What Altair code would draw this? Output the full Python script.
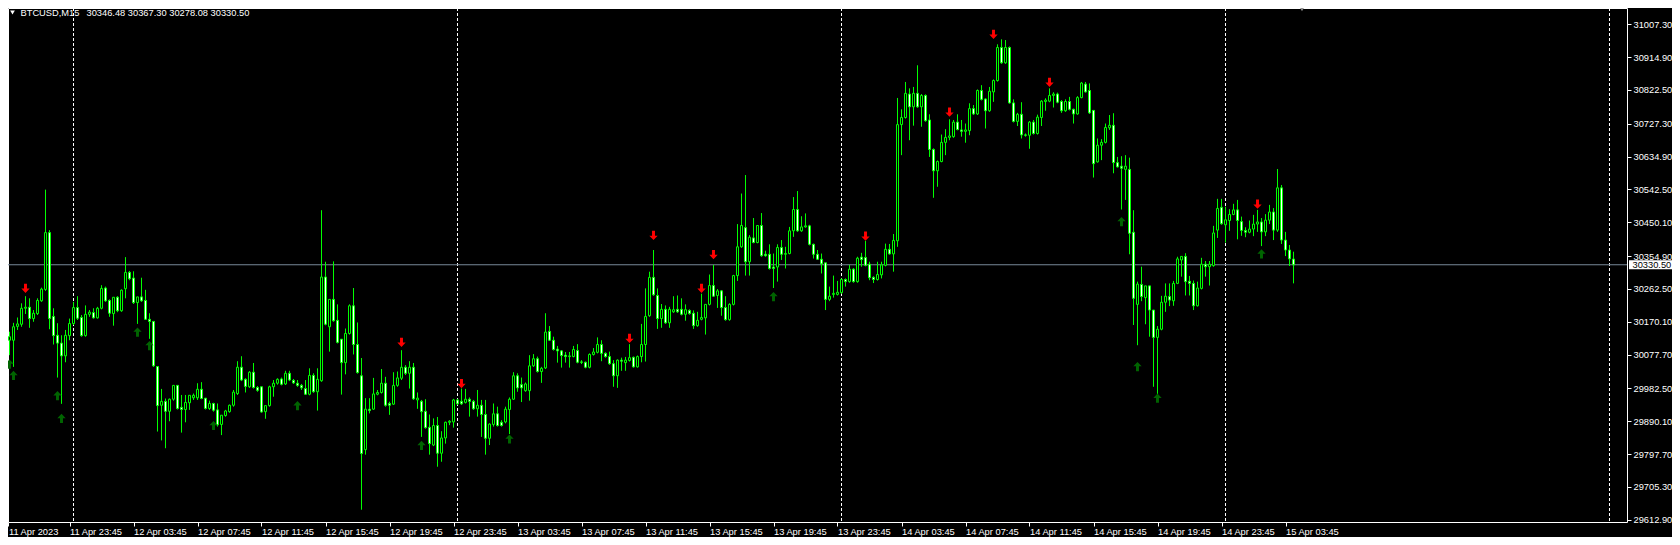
import altair as alt
import pandas as pd

symbol_text = "BTCUSD,M15"
ohlc_text = "30346.48 30367.30 30278.08 30330.50"
last_price = 30330.50

opens = [
    30188, 30118, 30118, 30157, 30163, 30208, 30211, 30179, 30193, 30229,
    30261, 30421, 30185, 30132, 30110, 30074, 30131, 30165, 30210, 30182,
    30131, 30191, 30196, 30181, 30208, 30265, 30230, 30193, 30239, 30201,
    30263, 30309, 30293, 30224, 30240, 30230, 30177, 30171, 30044, 29935,
    29946, 29918, 29952, 29991, 29929, 29923, 29942, 29956, 29956, 29980,
    29955, 29926, 29940, 29922, 29881, 29906, 29917, 29935, 29968, 30042,
    30008, 29987, 30028, 29985, 29987, 29917, 29934, 29987, 29997, 30009,
    29995, 30025, 30005, 29997, 29991, 29982, 29966, 30019, 29973, 30004,
    30296, 30156, 30233, 30174, 30121, 30055, 30137, 30215, 30106, 30018,
    29810, 29924, 29924, 29966, 29971, 29997, 29940, 29938, 29991, 30011,
    30042, 30025, 30042, 29950, 29946, 29918, 29873, 29823, 29878, 29800,
    29843, 29887, 29888, 29950, 29946, 29943, 29952, 29946, 29925, 29935,
    29909, 29842, 29881, 29911, 29887, 29888, 29923, 29952, 30018, 29993,
    29976, 29976, 30046, 30066, 30030, 30040, 30143, 30118, 30093, 30088,
    30076, 30072, 30072, 30089, 30057, 30056, 30042, 30078, 30084, 30106,
    30081, 30072, 30052, 30018, 30062, 30055, 30061, 30070, 30043, 30072,
    30106, 30187, 30295, 30244, 30179, 30205, 30167, 30198, 30205, 30205,
    30191, 30202, 30194, 30159, 30177, 30181, 30219, 30272, 30244, 30257,
    30210, 30176, 30219, 30300, 30381, 30435, 30339, 30406, 30393, 30441,
    30360, 30360, 30324, 30324, 30379, 30360, 30362, 30426, 30486, 30426,
    30437, 30440, 30388, 30360, 30346, 30336, 30233, 30247, 30247, 30252,
    30289, 30283, 30318, 30283, 30352, 30351, 30332, 30295, 30289, 30302,
    30329, 30374, 30361, 30398, 30725, 30745, 30811, 30775, 30813, 30775,
    30807, 30738, 30655, 30595, 30621, 30675, 30689, 30691, 30732, 30710,
    30706, 30708, 30770, 30755, 30821, 30797, 30764, 30817, 30849, 30942,
    30899, 30942, 30786, 30734, 30754, 30696, 30695, 30732, 30700, 30745,
    30790, 30791, 30807, 30811, 30790, 30764, 30790, 30768, 30755, 30801,
    30839, 30821, 30765, 30620, 30667, 30675, 30716, 30723, 30618, 30608,
    30599, 30599, 30422, 30219, 30275, 30238, 30271, 30203, 30126, 30149,
    30225, 30241, 30229, 30278, 30344, 30354, 30284, 30278, 30215, 30264,
    30332, 30325, 30328, 30428, 30492, 30443, 30455, 30472, 30485, 30452,
    30427, 30422, 30431, 30445, 30451, 30423, 30456, 30479, 30428, 30547,
    30400, 30372, 30346.48,
]

highs = [
    30188, 30142, 30167, 30182, 30222, 30242, 30236, 30203, 30236, 30266,
    30542, 30428, 30208, 30166, 30132, 30147, 30179, 30226, 30242, 30189,
    30216, 30203, 30208, 30212, 30273, 30269, 30233, 30239, 30242, 30261,
    30352, 30313, 30312, 30240, 30294, 30260, 30194, 30171, 30044, 29981,
    29954, 29954, 29991, 29991, 29964, 29964, 29963, 29968, 29997, 30000,
    29955, 29948, 29942, 29940, 29907, 29922, 29937, 29978, 30059, 30073,
    30011, 30031, 30054, 29989, 29987, 29934, 29990, 30006, 30011, 30013,
    30032, 30032, 30009, 30006, 29995, 30006, 30039, 30025, 30039, 30484,
    30339, 30233, 30340, 30219, 30121, 30151, 30219, 30265, 30168, 30068,
    29955, 29955, 30012, 29978, 30037, 30015, 29945, 30028, 30030, 30090,
    30048, 30059, 30054, 29971, 29950, 29952, 29909, 29898, 29902, 29862,
    29889, 29893, 29953, 29953, 29982, 29981, 29957, 29950, 29978, 29950,
    29950, 29884, 29940, 29931, 29893, 29931, 29957, 30028, 30025, 30013,
    29999, 30076, 30079, 30072, 30043, 30194, 30158, 30128, 30102, 30090,
    30085, 30085, 30102, 30107, 30062, 30058, 30081, 30096, 30126, 30118,
    30084, 30086, 30062, 30064, 30069, 30071, 30107, 30072, 30075, 30164,
    30264, 30311, 30372, 30264, 30220, 30216, 30212, 30242, 30244, 30236,
    30219, 30205, 30202, 30198, 30249, 30219, 30303, 30330, 30262, 30259,
    30242, 30222, 30302, 30445, 30531, 30583, 30414, 30462, 30441, 30476,
    30370, 30388, 30362, 30388, 30400, 30381, 30437, 30521, 30538, 30467,
    30475, 30443, 30390, 30372, 30362, 30336, 30269, 30300, 30285, 30292,
    30292, 30330, 30321, 30353, 30364, 30398, 30339, 30298, 30339, 30339,
    30390, 30389, 30417, 30800, 30768, 30845, 30827, 30831, 30892, 30811,
    30810, 30754, 30658, 30624, 30697, 30712, 30740, 30738, 30754, 30738,
    30728, 30785, 30780, 30824, 30836, 30799, 30831, 30852, 30951, 30965,
    30963, 30945, 30796, 30758, 30788, 30700, 30735, 30738, 30753, 30794,
    30799, 30827, 30816, 30815, 30794, 30796, 30803, 30770, 30805, 30845,
    30845, 30841, 30766, 30686, 30684, 30728, 30752, 30757, 30634, 30636,
    30639, 30632, 30484, 30283, 30325, 30271, 30271, 30203, 30158, 30243,
    30278, 30278, 30285, 30353, 30354, 30363, 30299, 30286, 30283, 30350,
    30341, 30341, 30440, 30516, 30516, 30494, 30487, 30502, 30513, 30466,
    30436, 30455, 30471, 30485, 30462, 30473, 30499, 30490, 30600, 30555,
    30423, 30386, 30367.30,
]

lows = [
    30111, 30076, 30043, 30147, 30156, 30192, 30153, 30170, 30189, 30226,
    30257, 30149, 30106, 30013, 29939, 30056, 30118, 30161, 30175, 30128,
    30128, 30184, 30179, 30179, 30205, 30226, 30184, 30159, 30197, 30198,
    30236, 30287, 30220, 30164, 30226, 30175, 30122, 30043, 29861, 29836,
    29814, 29890, 29948, 29923, 29858, 29887, 29922, 29950, 29950, 29952,
    29923, 29922, 29917, 29875, 29851, 29903, 29914, 29931, 29964, 30003,
    29971, 29984, 29982, 29973, 29914, 29897, 29931, 29959, 29993, 29991,
    29992, 30003, 29995, 29987, 29978, 29964, 29963, 29970, 29920, 30001,
    30160, 30086, 30170, 30109, 29965, 30022, 30134, 30078, 30024, 29641,
    29796, 29912, 29922, 29963, 29968, 29931, 29908, 29936, 29987, 30006,
    30020, 29982, 29950, 29925, 29846, 29869, 29796, 29820, 29762, 29776,
    29827, 29879, 29872, 29936, 29936, 29940, 29903, 29922, 29903, 29846,
    29796, 29823, 29875, 29875, 29875, 29884, 29854, 29950, 29973, 29944,
    29973, 29948, 30043, 30027, 29998, 30037, 30116, 30089, 30055, 30041,
    30055, 30041, 30070, 30053, 30051, 30039, 30039, 30075, 30081, 30059,
    30069, 30049, 29987, 29984, 30032, 30032, 30058, 30041, 30041, 30056,
    30058, 30184, 30243, 30150, 30153, 30164, 30153, 30195, 30195, 30188,
    30173, 30190, 30150, 30156, 30174, 30134, 30216, 30240, 30209, 30187,
    30173, 30173, 30216, 30285, 30378, 30300, 30300, 30391, 30391, 30353,
    30353, 30317, 30265, 30283, 30344, 30320, 30360, 30409, 30423, 30423,
    30435, 30385, 30348, 30344, 30306, 30203, 30228, 30238, 30244, 30249,
    30269, 30280, 30280, 30280, 30325, 30326, 30287, 30279, 30286, 30292,
    30326, 30359, 30311, 30381, 30639, 30742, 30681, 30722, 30772, 30719,
    30733, 30634, 30519, 30550, 30619, 30639, 30681, 30688, 30709, 30691,
    30674, 30695, 30752, 30752, 30793, 30714, 30761, 30789, 30846, 30896,
    30896, 30784, 30731, 30721, 30686, 30691, 30657, 30697, 30697, 30721,
    30764, 30788, 30773, 30785, 30758, 30761, 30765, 30728, 30753, 30799,
    30815, 30755, 30576, 30618, 30625, 30672, 30710, 30588, 30604, 30486,
    30513, 30360, 30161, 30104, 30228, 30163, 30128, 29987, 29967, 30146,
    30198, 30214, 30215, 30276, 30297, 30244, 30244, 30203, 30213, 30261,
    30297, 30272, 30325, 30406, 30443, 30393, 30426, 30470, 30402, 30412,
    30408, 30419, 30411, 30423, 30383, 30411, 30445, 30400, 30423, 30389,
    30355, 30327, 30278.08,
]

closes = [
    30130, 30128, 30156, 30164, 30208, 30211, 30179, 30194, 30230, 30262,
    30421, 30179, 30131, 30110, 30074, 30132, 30165, 30210, 30180, 30131,
    30191, 30197, 30181, 30208, 30264, 30229, 30194, 30239, 30201, 30259,
    30309, 30291, 30224, 30240, 30229, 30177, 30171, 30046, 29934, 29946,
    29918, 29952, 29991, 29926, 29923, 29943, 29963, 29963, 29980, 29954,
    29926, 29940, 29921, 29880, 29907, 29919, 29935, 29972, 30042, 30006,
    29988, 30028, 29985, 29977, 29916, 29934, 29987, 29997, 30008, 29994,
    30025, 30006, 29998, 29991, 29984, 29966, 30019, 29973, 30008, 30296,
    30163, 30233, 30173, 30112, 30055, 30137, 30215, 30106, 30027, 29799,
    29924, 29920, 29967, 29971, 29997, 29935, 29935, 29991, 30012, 30042,
    30025, 30042, 29953, 29955, 29917, 29872, 29827, 29878, 29800, 29843,
    29887, 29890, 29950, 29939, 29939, 29952, 29946, 29925, 29935, 29909,
    29842, 29882, 29911, 29878, 29878, 29924, 29952, 30018, 29984, 29984,
    29995, 30046, 30066, 30030, 30039, 30141, 30118, 30092, 30088, 30075,
    30072, 30074, 30092, 30056, 30056, 30042, 30078, 30085, 30106, 30081,
    30072, 30052, 30018, 30062, 30059, 30062, 30069, 30043, 30072, 30106,
    30185, 30295, 30246, 30179, 30205, 30167, 30205, 30204, 30198, 30191,
    30204, 30193, 30159, 30174, 30182, 30219, 30272, 30242, 30257, 30210,
    30176, 30219, 30300, 30381, 30441, 30339, 30408, 30393, 30441, 30356,
    30356, 30320, 30320, 30379, 30360, 30362, 30426, 30486, 30426, 30437,
    30440, 30388, 30360, 30346, 30333, 30233, 30242, 30250, 30253, 30289,
    30283, 30318, 30283, 30349, 30345, 30329, 30294, 30289, 30303, 30330,
    30374, 30361, 30399, 30725, 30745, 30813, 30775, 30813, 30775, 30807,
    30736, 30655, 30595, 30621, 30675, 30689, 30693, 30732, 30711, 30706,
    30710, 30770, 30755, 30821, 30796, 30764, 30819, 30849, 30942, 30899,
    30942, 30786, 30734, 30754, 30696, 30695, 30732, 30700, 30746, 30791,
    30794, 30807, 30811, 30788, 30764, 30790, 30768, 30755, 30801, 30842,
    30817, 30758, 30615, 30667, 30675, 30717, 30723, 30618, 30606, 30602,
    30608, 30419, 30236, 30276, 30241, 30271, 30203, 30126, 30149, 30225,
    30242, 30231, 30278, 30347, 30354, 30283, 30278, 30215, 30265, 30332,
    30325, 30332, 30420, 30489, 30446, 30457, 30472, 30485, 30455, 30427,
    30422, 30431, 30445, 30451, 30423, 30456, 30479, 30428, 30547, 30400,
    30372, 30347, 30330.50,
]

# fractal arrows: candle index and price where the arrow sits
down_idx = [5, 99, 114, 156, 162, 174, 177, 215, 236, 247, 261, 313]
down_price = [30264, 30112, 29996, 30123, 30413, 30264, 30359, 30411, 30760, 30979, 30844, 30501]
up_idx = [1, 2, 13, 14, 33, 36, 52, 73, 104, 126, 192, 279, 283, 288, 314]
up_price = [30051, 30019, 29962, 29898, 30141, 30103, 29878, 29934, 29822, 29840, 30241, 30452, 30044, 29955, 30361]

time_ticks = list(range(0, 321, 16))
time_labels = [
    "11 Apr 2023", "11 Apr 23:45", "12 Apr 03:45", "12 Apr 07:45", "12 Apr 11:45",
    "12 Apr 15:45", "12 Apr 19:45", "12 Apr 23:45", "13 Apr 03:45", "13 Apr 07:45",
    "13 Apr 11:45", "13 Apr 15:45", "13 Apr 19:45", "13 Apr 23:45", "14 Apr 03:45",
    "14 Apr 07:45", "14 Apr 11:45", "14 Apr 15:45", "14 Apr 19:45", "14 Apr 23:45",
    "15 Apr 03:45",
]
price_ticks = [31007.30, 30914.90, 30822.50, 30727.30, 30634.90, 30542.50, 30450.10,
               30354.90, 30262.50, 30170.10, 30077.70, 29982.50, 29890.10, 29797.70,
               29705.30, 29612.90]
day_separators = [17, 113, 209, 305, 401]

FONT = "Liberation Sans"
FS = 9.3
W, H = 1619, 514
LIME = "#00ff00"

candles = pd.DataFrame({
    "i": list(range(len(opens))),
    "open": opens, "high": highs, "low": lows, "close": closes,
})
downs = pd.DataFrame({"i": down_idx, "p": down_price})
ups = pd.DataFrame({"i": up_idx, "p": up_price})
seps = pd.DataFrame({"i": day_separators})
lastdf = pd.DataFrame({"p": [last_price], "label": [f"{last_price:.2f}"]})
titledf = pd.DataFrame({"sym": [symbol_text], "ohlc": [ohlc_text]})

x_domain = [0.625, 405.375]
xs = alt.Scale(domain=x_domain, nice=False, zero=False, padding=0)
ys = alt.Scale(domain=[29606.4, 31053.2], nice=False, zero=False, padding=0)

# the first time label sits on the left edge of the plot
axis_ticks = [max(t, x_domain[0] + 0.1) for t in time_ticks]
label_arr = "[" + ",".join("'" + s + "'" for s in time_labels) + "]"

x_axis = alt.Axis(
    values=axis_ticks, labelExpr=label_arr + "[round(datum.value/16)]",
    orient="bottom", labelAlign="left", labelBaseline="top", labelPadding=1,
    labelColor="white", labelFont=FONT, labelFontSize=FS, tickColor="white",
    tickSize=4, domain=False, grid=False, title=None, labelOverlap=False,
    labelFlush=False, labelBound=False,
)
y_axis = alt.Axis(
    values=price_ticks, format=".2f", orient="right", labelColor="white",
    labelFont=FONT, labelFontSize=FS, tickColor="white", tickSize=4,
    labelPadding=2, domain=False, grid=False, title=None, labelOverlap=False,
    labelFlush=False, labelBound=False,
)


def X(field):
    return alt.X(field, scale=xs, axis=x_axis, title=None)


def Y(field):
    return alt.Y(field, scale=ys, axis=y_axis, title=None)


sep_layer = alt.Chart(seps).mark_rule(color="white", strokeDash=[3, 2], strokeWidth=1).encode(
    x=X("i:Q")
)
price_line = alt.Chart(lastdf).mark_rule(color="#778899", strokeWidth=1).encode(
    y=Y("p:Q")
)
wicks = alt.Chart(candles).mark_rule(color=LIME, strokeWidth=1).encode(
    x=X("i:Q"), y=Y("low:Q"), y2="high:Q",
)
bodies = alt.Chart(candles).mark_bar(width=2, stroke=LIME, strokeWidth=1).encode(
    x=X("i:Q"), y=Y("open:Q"), y2="close:Q",
    fill=alt.condition("datum.close < datum.open", alt.value("white"), alt.value("black")),
)
down_shape = "M-0.32,-1L0.32,-1L0.32,0.05L0.9,0.05L0,1L-0.9,0.05L-0.32,0.05Z"
up_shape = "M-0.32,1L0.32,1L0.32,-0.05L0.9,-0.05L0,-1L-0.9,-0.05L-0.32,-0.05Z"
down_arrows = alt.Chart(downs).mark_point(shape=down_shape, filled=True, color="#ff0000",
                                          size=85, opacity=1).encode(
    x=X("i:Q"), y=Y("p:Q")
)
up_arrows = alt.Chart(ups).mark_point(shape=up_shape, filled=True, color="#006400",
                                      size=85, opacity=1).encode(
    x=X("i:Q"), y=Y("p:Q")
)
price_box = alt.Chart(lastdf).transform_calculate(
    top="datum.p + 13", bot="datum.p - 13"
).mark_rect(color="white").encode(
    x=alt.value(W + 2), x2=alt.value(W + 48),
    y=Y("top:Q"), y2="bot:Q",
)
price_text = alt.Chart(lastdf).mark_text(
    color="black", font=FONT, fontSize=FS, align="left", baseline="middle"
).encode(
    x=alt.value(W + 5.5), y=Y("p:Q"), text="label:N"
)
title_sym = alt.Chart(titledf).mark_text(
    color="white", font=FONT, fontSize=FS, align="left", baseline="alphabetic"
).encode(x=alt.value(12.5), y=alt.value(8), text="sym:N")
title_ohlc = alt.Chart(titledf).mark_text(
    color="white", font=FONT, fontSize=FS, align="left", baseline="alphabetic"
).encode(x=alt.value(78.5), y=alt.value(8), text="ohlc:N")
title_tri = alt.Chart(titledf).mark_point(
    shape="triangle-down", filled=True, color="white", size=22, opacity=1
).encode(x=alt.value(4.5), y=alt.value(4.5))
shift_tri = alt.Chart(titledf).mark_point(
    shape="triangle-down", filled=True, color="#909090", size=40, opacity=1
).encode(x=alt.value(1294), y=alt.value(0.5))

chart = alt.layer(
    sep_layer, price_line, wicks, bodies, down_arrows, up_arrows,
    price_box, price_text, title_sym, title_ohlc, title_tri, shift_tri,
).properties(
    width=W, height=H,
    autosize=alt.AutoSizeParams(type="none"),
    padding={"left": 0, "top": 0, "right": 45, "bottom": 15},
    background="black",
).configure_view(stroke="white", strokeWidth=1)

chart.save("out.html", embed_options={"renderer": "svg", "actions": False})
